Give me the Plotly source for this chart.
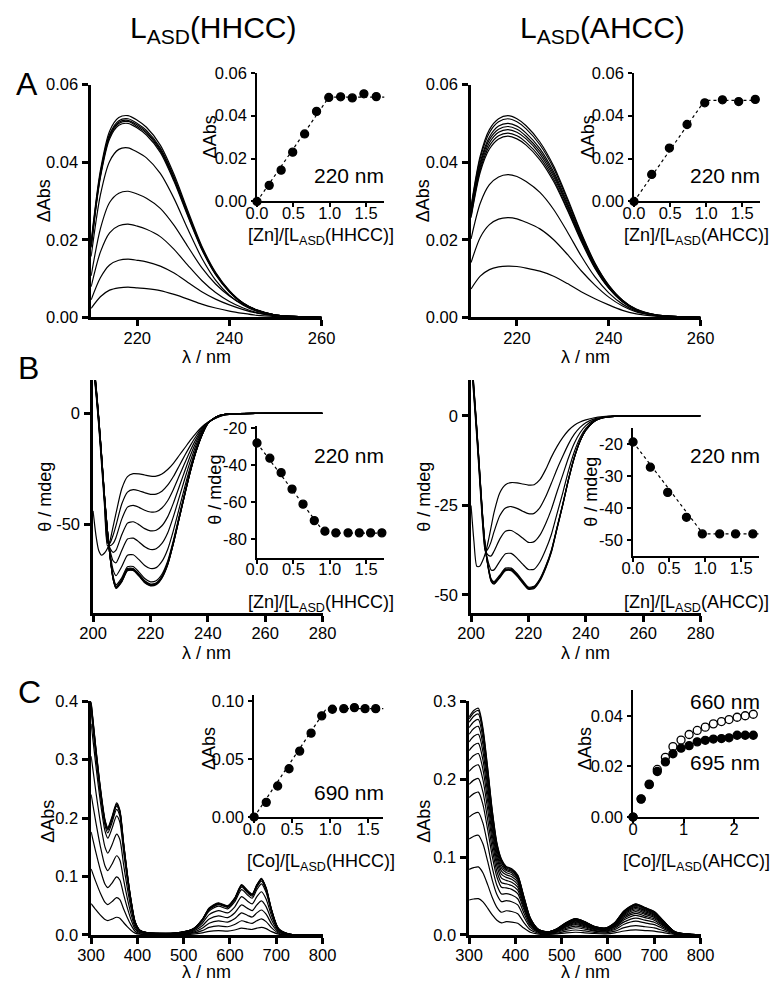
import plotly.graph_objects as go

W, H = 783, 993
FONT = "Liberation Sans, Arial, sans-serif"

# ---------------- DATA ----------------
# Panel A, L_ASD(HHCC): Zn titration UV difference spectra
A_HHCC_WL = [210, 212, 214, 216, 218, 220, 222, 225, 228, 231, 234, 237, 240, 243, 246, 250, 255, 260]
A_HHCC_SPECTRA = [
    [0.0023, 0.0053, 0.0070, 0.0076, 0.0078, 0.0076, 0.0074, 0.0069, 0.0059, 0.0047, 0.0034, 0.0024, 0.0016, 0.0010, 0.0005, 0.0002, 0.0000, 0],
    [0.0045, 0.0102, 0.0135, 0.0147, 0.0150, 0.0147, 0.0143, 0.0132, 0.0114, 0.0090, 0.0066, 0.0047, 0.0032, 0.0020, 0.0011, 0.0004, 0.0001, 0],
    [0.0079, 0.0168, 0.0218, 0.0236, 0.0240, 0.0235, 0.0227, 0.0208, 0.0175, 0.0134, 0.0095, 0.0064, 0.0041, 0.0024, 0.0012, 0.0004, 0.0001, 0],
    [0.0107, 0.0228, 0.0296, 0.0320, 0.0325, 0.0318, 0.0307, 0.0281, 0.0237, 0.0182, 0.0128, 0.0086, 0.0055, 0.0033, 0.0017, 0.0006, 0.0001, 0],
    [0.0157, 0.0315, 0.0402, 0.0433, 0.0437, 0.0426, 0.0411, 0.0371, 0.0306, 0.0227, 0.0153, 0.0096, 0.0057, 0.0031, 0.0015, 0.0005, 0.0001, 0],
    [0.0180, 0.0360, 0.0460, 0.0495, 0.0500, 0.0488, 0.0470, 0.0425, 0.0350, 0.0260, 0.0175, 0.0110, 0.0065, 0.0035, 0.0018, 0.0006, 0.0002, 0],
    [0.0182, 0.0364, 0.0465, 0.0500, 0.0505, 0.0492, 0.0475, 0.0429, 0.0354, 0.0263, 0.0177, 0.0111, 0.0066, 0.0035, 0.0018, 0.0006, 0.0002, 0],
    [0.0185, 0.0368, 0.0468, 0.0503, 0.0508, 0.0496, 0.0478, 0.0433, 0.0358, 0.0266, 0.0179, 0.0113, 0.0067, 0.0036, 0.0018, 0.0006, 0.0002, 0],
    [0.0190, 0.0372, 0.0472, 0.0507, 0.0512, 0.0500, 0.0482, 0.0437, 0.0362, 0.0269, 0.0181, 0.0114, 0.0068, 0.0036, 0.0018, 0.0006, 0.0002, 0],
    [0.0195, 0.0378, 0.0480, 0.0515, 0.0520, 0.0508, 0.0490, 0.0444, 0.0368, 0.0274, 0.0184, 0.0116, 0.0069, 0.0037, 0.0019, 0.0006, 0.0002, 0],
]
A_HHCC_RATIO = [0, 0.168, 0.332, 0.491, 0.655, 0.819, 0.987, 1.15, 1.31, 1.47, 1.64]
A_HHCC_DABS = [0.0, 0.0075, 0.0146, 0.0230, 0.0315, 0.0420, 0.0485, 0.0488, 0.0483, 0.0502, 0.0489]
A_HHCC_FIT_X = [0, 0.99, 1.78]
A_HHCC_FIT_Y = [0, 0.0487, 0.0487]

# Panel A, L_ASD(AHCC)
A_AHCC_WL = [210, 212, 214, 216, 218, 220, 222, 225, 228, 231, 234, 237, 240, 243, 246, 250, 255, 260]
A_AHCC_SPECTRA = [
    [0.0073, 0.0106, 0.0123, 0.0130, 0.0132, 0.0131, 0.0127, 0.0119, 0.0106, 0.0087, 0.0066, 0.0048, 0.0032, 0.0018, 0.0009, 0.0003, 0.0001, 0],
    [0.0141, 0.0206, 0.0239, 0.0253, 0.0257, 0.0254, 0.0245, 0.0228, 0.0200, 0.0162, 0.0120, 0.0083, 0.0052, 0.0029, 0.0014, 0.0005, 0.0001, 0],
    [0.0202, 0.0294, 0.0342, 0.0362, 0.0368, 0.0363, 0.0350, 0.0322, 0.0278, 0.0220, 0.0158, 0.0104, 0.0063, 0.0034, 0.0016, 0.0005, 0.0001, 0],
    [0.0257, 0.0374, 0.0434, 0.0460, 0.0467, 0.0460, 0.0444, 0.0406, 0.0350, 0.0276, 0.0196, 0.0126, 0.0075, 0.0040, 0.0019, 0.0006, 0.0001, 0],
    [0.0261, 0.0380, 0.0442, 0.0468, 0.0475, 0.0468, 0.0451, 0.0413, 0.0356, 0.0280, 0.0200, 0.0128, 0.0076, 0.0040, 0.0019, 0.0006, 0.0001, 0],
    [0.0266, 0.0387, 0.0450, 0.0477, 0.0484, 0.0477, 0.0460, 0.0421, 0.0363, 0.0286, 0.0203, 0.0131, 0.0077, 0.0041, 0.0019, 0.0006, 0.0001, 0],
    [0.0271, 0.0394, 0.0458, 0.0485, 0.0492, 0.0485, 0.0467, 0.0428, 0.0369, 0.0290, 0.0207, 0.0133, 0.0079, 0.0042, 0.0020, 0.0006, 0.0001, 0],
    [0.0275, 0.0400, 0.0465, 0.0493, 0.0500, 0.0493, 0.0475, 0.0435, 0.0375, 0.0295, 0.0210, 0.0135, 0.0080, 0.0043, 0.0020, 0.0007, 0.0002, 0],
    [0.0282, 0.0410, 0.0476, 0.0504, 0.0512, 0.0504, 0.0486, 0.0445, 0.0384, 0.0302, 0.0215, 0.0138, 0.0082, 0.0044, 0.0020, 0.0007, 0.0002, 0],
    [0.0286, 0.0416, 0.0484, 0.0512, 0.0520, 0.0512, 0.0494, 0.0452, 0.0390, 0.0307, 0.0218, 0.0140, 0.0083, 0.0044, 0.0021, 0.0007, 0.0002, 0],
]
A_AHCC_RATIO = [0, 0.245, 0.49, 0.735, 0.98, 1.225, 1.45, 1.68]
A_AHCC_DABS = [0.0, 0.0126, 0.0249, 0.0359, 0.0460, 0.0474, 0.0466, 0.0476]
A_AHCC_FIT_X = [0, 0.98, 1.78]
A_AHCC_FIT_Y = [0, 0.0471, 0.0471]

# Panel B, CD spectra (mdeg)
B_WL = [200, 201, 202, 203, 204, 205, 206, 207, 208, 210, 212, 214, 216, 218, 220, 222, 224, 226, 228, 230, 232, 234, 236, 238, 240, 243, 246, 250, 260, 280]
B_HHCC_SPECTRA = [
    [-44, -55, -62, -64, -63, -61, -57, -51, -45, -34, -28.5, -27.2, -27.3, -27.8, -28.3, -28.3, -27.3, -25.3, -22.5, -19, -15.5, -12, -8.8, -6, -4, -2, -0.7, -0.2, 0, 0],
    [22, 9, -6, -24, -42, -59.7, -58.3, -54.9, -50.5, -40.9, -35.5, -34.4, -34.9, -35.8, -36.5, -36.4, -35.1, -32.4, -28.5, -23.7, -18.9, -14.3, -10.1, -6.6, -4.1, -1.9, -0.65, -0.2, 0, 0],
    [23, 10, -5, -22, -40, -58.3, -59.7, -58.7, -56, -47.7, -42.3, -41.5, -42.4, -43.7, -44.5, -44.4, -42.7, -39.4, -34.3, -28.3, -22.3, -16.5, -11.4, -7.2, -4.2, -1.8, -0.6, -0.2, 0, 0],
    [23.5, 10.5, -4.5, -21.5, -39.5, -56.9, -61.1, -62.7, -61.7, -54.8, -49.5, -48.9, -50.2, -52, -53, -52.7, -50.7, -46.7, -40.5, -33.2, -25.9, -18.8, -12.7, -7.8, -4.3, -1.75, -0.55, -0.15, 0, 0],
    [24, 11, -4, -21, -39, -55.6, -62.4, -66.6, -67.4, -61.9, -56.7, -56.3, -58, -60.2, -61.4, -61.1, -58.7, -54, -46.6, -38, -29.4, -21.2, -14, -8.4, -4.3, -1.7, -0.5, -0.15, 0, 0],
    [24.5, 11.5, -3.5, -20.5, -38.5, -54.2, -63.8, -70.7, -73.2, -69.1, -64, -63.8, -66, -68.6, -70, -69.6, -66.8, -61.4, -52.9, -43, -33, -23.6, -15.4, -9, -4.4, -1.6, -0.45, -0.1, 0, 0],
    [25, 12, -3, -20, -38, -53.2, -64.8, -73.5, -77.3, -74.2, -69.2, -69.1, -71.6, -74.5, -76, -75.5, -72.6, -66.7, -57.3, -46.4, -35.6, -25.2, -16.3, -9.4, -4.5, -1.5, -0.4, -0.1, 0, 0],
    [25, 12, -3, -20, -38, -53, -65, -74, -78, -75, -70, -70, -72.5, -75.5, -77, -76.5, -73.5, -67.5, -58, -47, -36, -25.5, -16.5, -9.5, -4.5, -1.5, -0.4, -0.1, 0, 0],
    [25.5, 12.3, -2.8, -19.8, -37.8, -53, -65.2, -74.3, -78.3, -75.3, -70.3, -70.3, -72.8, -75.8, -77.2, -76.7, -73.7, -67.8, -58.3, -47.2, -36.2, -25.6, -16.6, -9.6, -4.5, -1.5, -0.4, -0.1, 0, 0],
    [26, 12.6, -2.6, -19.6, -37.6, -52.9, -65.4, -74.6, -78.6, -75.6, -70.6, -70.5, -73, -76, -77.4, -76.9, -73.9, -68, -58.5, -47.4, -36.3, -25.7, -16.7, -9.6, -4.5, -1.5, -0.4, -0.1, 0, 0],
    [26.5, 12.9, -2.4, -19.4, -37.4, -52.8, -65.5, -74.8, -78.8, -75.8, -70.8, -70.7, -73.2, -76.2, -77.6, -77.1, -74.1, -68.2, -58.6, -47.5, -36.4, -25.8, -16.8, -9.7, -4.6, -1.5, -0.4, -0.1, 0, 0],
    [27, 13.2, -2.2, -19.2, -37.2, -52.7, -65.6, -75, -79, -76, -71, -70.9, -73.4, -76.4, -77.8, -77.3, -74.3, -68.4, -58.8, -47.6, -36.5, -25.9, -16.9, -9.7, -4.6, -1.5, -0.4, -0.1, 0, 0],
]
B_HHCC_RATIO = [0, 0.177, 0.332, 0.482, 0.633, 0.788, 0.934, 1.084, 1.252, 1.407, 1.562, 1.717]
B_HHCC_THETA = [-28.0, -36.2, -44.0, -52.9, -61.0, -69.9, -75.6, -76.5, -76.5, -76.5, -76.5, -76.5]
B_HHCC_FIT_X = [0, 0.93, 1.78]
B_HHCC_FIT_Y = [-28.0, -76.6, -76.6]

B_AHCC_SPECTRA = [
    [-25, -35, -42, -42, -40.5, -38.3, -35, -31, -27, -21.5, -19.2, -18.6, -18.7, -19, -19.3, -19.2, -17.8, -15, -11.5, -8.5, -6, -4, -2.6, -1.7, -1.1, -0.5, -0.2, 0, 0, 0],
    [16, 5, -6, -18, -30, -37.9, -37, -35.1, -32.4, -27.9, -25.7, -25.3, -25.8, -26.6, -27.3, -27.2, -25.6, -22.6, -18.8, -14.8, -11.2, -7.8, -5.1, -3.2, -1.9, -0.8, -0.3, 0, 0, 0],
    [17, 6, -5, -17, -29, -37.6, -38.9, -39.1, -37.8, -34.4, -32.2, -32, -32.9, -34.1, -35.3, -35.1, -33.3, -30.1, -26.1, -21.1, -16.4, -11.6, -7.6, -4.7, -2.7, -1.1, -0.4, -0.1, 0, 0],
    [17.5, 6.5, -4.5, -16.5, -28.5, -37.2, -40.8, -43, -43, -40.6, -38.5, -38.4, -39.7, -41.4, -42.9, -42.8, -40.8, -37.4, -33.1, -27.2, -21.4, -15.2, -10, -6.1, -3.5, -1.3, -0.45, -0.1, 0, 0],
    [18, 7, -4, -16, -28, -37, -42, -45.5, -46.3, -44.5, -42.5, -42.5, -44, -46, -47.8, -47.6, -45.5, -42, -37.5, -31, -24.5, -17.5, -11.5, -7, -4, -1.5, -0.5, -0.1, 0, 0],
    [18.5, 7.3, -3.8, -15.8, -27.8, -37, -42.2, -45.8, -46.6, -44.8, -42.8, -42.8, -44.3, -46.3, -48, -47.8, -45.7, -42.2, -37.7, -31.2, -24.6, -17.6, -11.6, -7, -4, -1.5, -0.5, -0.1, 0, 0],
    [19, 7.6, -3.6, -15.6, -27.6, -36.9, -42.4, -46, -46.8, -45, -43, -43, -44.5, -46.5, -48.2, -48, -45.9, -42.4, -37.9, -31.3, -24.7, -17.7, -11.6, -7.1, -4, -1.5, -0.5, -0.1, 0, 0],
    [19.5, 7.9, -3.4, -15.4, -27.4, -36.8, -42.6, -46.2, -47, -45.2, -43.2, -43.2, -44.7, -46.7, -48.4, -48.2, -46.1, -42.6, -38.1, -31.4, -24.8, -17.8, -11.7, -7.1, -4, -1.5, -0.5, -0.1, 0, 0],
]
B_AHCC_RATIO = [0, 0.24, 0.48, 0.74, 0.96, 1.2, 1.42, 1.66]
B_AHCC_THETA = [-19.3, -27.2, -35.1, -42.9, -48.1, -48.1, -48.1, -48.1]
B_AHCC_FIT_X = [0, 0.97, 1.78]
B_AHCC_FIT_Y = [-19.3, -48.1, -48.1]

# Panel C, Co titration UV-vis spectra
C_HHCC_WL = [300, 310, 320, 330, 336, 345, 355, 362, 370, 378, 386, 395, 405, 420, 480, 520, 540, 555, 575, 595, 610, 625, 638, 648, 658, 668, 678, 690, 705, 730, 800]
C_HHCC_SPECTRA = [
    [0.0536, 0.0432, 0.0338, 0.0263, 0.0246, 0.0270, 0.0302, 0.0286, 0.0212, 0.0142, 0.0081, 0.0030, 0.0011, 0.0005, 0.0004, 0.0014, 0.0035, 0.0061, 0.0073, 0.0066, 0.0084, 0.0115, 0.0101, 0.0093, 0.0115, 0.0130, 0.0108, 0.0057, 0.0014, 0.0001, 0],
    [0.1131, 0.0912, 0.0713, 0.0556, 0.0519, 0.0570, 0.0638, 0.0604, 0.0447, 0.0299, 0.0171, 0.0063, 0.0023, 0.0011, 0.0009, 0.0029, 0.0074, 0.0128, 0.0154, 0.0140, 0.0177, 0.0242, 0.0214, 0.0197, 0.0242, 0.0274, 0.0228, 0.0120, 0.0029, 0.0003, 0],
    [0.1763, 0.1421, 0.1110, 0.0866, 0.0808, 0.0888, 0.0995, 0.0941, 0.0697, 0.0466, 0.0266, 0.0098, 0.0036, 0.0018, 0.0013, 0.0044, 0.0115, 0.0200, 0.0240, 0.0218, 0.0275, 0.0377, 0.0333, 0.0306, 0.0377, 0.0426, 0.0355, 0.0186, 0.0044, 0.0004, 0],
    [0.2402, 0.1936, 0.1513, 0.1180, 0.1101, 0.1210, 0.1355, 0.1283, 0.0950, 0.0635, 0.0363, 0.0133, 0.0048, 0.0024, 0.0018, 0.0061, 0.0157, 0.0272, 0.0327, 0.0296, 0.0375, 0.0514, 0.0454, 0.0417, 0.0514, 0.0581, 0.0484, 0.0254, 0.0061, 0.0006, 0],
    [0.3057, 0.2464, 0.1925, 0.1502, 0.1401, 0.1540, 0.1725, 0.1632, 0.1209, 0.0809, 0.0462, 0.0169, 0.0062, 0.0031, 0.0023, 0.0077, 0.0200, 0.0347, 0.0416, 0.0377, 0.0477, 0.0655, 0.0578, 0.0531, 0.0655, 0.0739, 0.0616, 0.0323, 0.0077, 0.0008, 0],
    [0.3613, 0.2912, 0.2275, 0.1775, 0.1656, 0.1820, 0.2038, 0.1929, 0.1429, 0.0956, 0.0546, 0.0200, 0.0073, 0.0036, 0.0027, 0.0091, 0.0237, 0.0410, 0.0491, 0.0446, 0.0564, 0.0774, 0.0683, 0.0628, 0.0774, 0.0874, 0.0728, 0.0382, 0.0091, 0.0009, 0],
    [0.3811, 0.3072, 0.2400, 0.1872, 0.1747, 0.1920, 0.2150, 0.2035, 0.1507, 0.1008, 0.0576, 0.0211, 0.0077, 0.0038, 0.0029, 0.0096, 0.0250, 0.0432, 0.0518, 0.0470, 0.0595, 0.0816, 0.0720, 0.0662, 0.0816, 0.0922, 0.0768, 0.0403, 0.0096, 0.0010, 0],
    [0.3910, 0.3152, 0.2463, 0.1921, 0.1793, 0.1970, 0.2206, 0.2088, 0.1546, 0.1034, 0.0591, 0.0217, 0.0079, 0.0039, 0.0030, 0.0099, 0.0256, 0.0443, 0.0532, 0.0483, 0.0611, 0.0837, 0.0739, 0.0680, 0.0837, 0.0946, 0.0788, 0.0414, 0.0099, 0.0010, 0],
    [0.3950, 0.3184, 0.2488, 0.1940, 0.1811, 0.1990, 0.2229, 0.2109, 0.1562, 0.1045, 0.0597, 0.0219, 0.0080, 0.0040, 0.0030, 0.0100, 0.0259, 0.0448, 0.0537, 0.0488, 0.0617, 0.0846, 0.0746, 0.0687, 0.0846, 0.0955, 0.0796, 0.0418, 0.0100, 0.0010, 0],
    [0.3970, 0.3200, 0.2500, 0.1950, 0.1820, 0.2000, 0.2240, 0.2120, 0.1570, 0.1050, 0.0600, 0.0220, 0.0080, 0.0040, 0.0030, 0.0100, 0.0260, 0.0450, 0.0540, 0.0490, 0.0620, 0.0850, 0.0750, 0.0690, 0.0850, 0.0960, 0.0800, 0.0420, 0.0100, 0.0010, 0],
    [0.3990, 0.3220, 0.2520, 0.1970, 0.1840, 0.2020, 0.2260, 0.2140, 0.1590, 0.1060, 0.0610, 0.0230, 0.0080, 0.0040, 0.0030, 0.0100, 0.0260, 0.0460, 0.0550, 0.0500, 0.0630, 0.0860, 0.0760, 0.0700, 0.0860, 0.0970, 0.0810, 0.0430, 0.0110, 0.0010, 0],
]
C_HHCC_RATIO = [0, 0.16, 0.31, 0.46, 0.60, 0.75, 0.89, 1.03, 1.18, 1.32, 1.46, 1.60]
C_HHCC_DABS = [0.0, 0.0127, 0.0268, 0.0417, 0.0569, 0.0724, 0.0873, 0.0930, 0.0935, 0.0944, 0.0935, 0.0935]
C_HHCC_FIT_X = [0, 0.95, 1.72]
C_HHCC_FIT_Y = [0, 0.0935, 0.0935]

C_AHCC_WL = [300, 310, 320, 330, 340, 350, 360, 370, 380, 392, 405, 418, 432, 450, 470, 490, 510, 530, 550, 570, 595, 615, 635, 660, 680, 700, 720, 745, 800]
C_AHCC_SPECTRA = [
    [0.0448, 0.0461, 0.0466, 0.0424, 0.0344, 0.0256, 0.0189, 0.0155, 0.0170, 0.0165, 0.0149, 0.0088, 0.0035, 0.0011, 0.0006, 0.0013, 0.0026, 0.0034, 0.0027, 0.0018, 0.0014, 0.0026, 0.0050, 0.0064, 0.0056, 0.0048, 0.0029, 0.0006, 0],
    [0.0840, 0.0864, 0.0873, 0.0795, 0.0645, 0.0480, 0.0354, 0.0291, 0.0310, 0.0300, 0.0271, 0.0162, 0.0066, 0.0021, 0.0012, 0.0024, 0.0048, 0.0063, 0.0051, 0.0033, 0.0027, 0.0048, 0.0093, 0.0120, 0.0105, 0.0090, 0.0054, 0.0012, 0],
    [0.1232, 0.1267, 0.1280, 0.1166, 0.0946, 0.0704, 0.0519, 0.0427, 0.0441, 0.0426, 0.0386, 0.0235, 0.0097, 0.0031, 0.0018, 0.0035, 0.0070, 0.0092, 0.0075, 0.0048, 0.0040, 0.0070, 0.0136, 0.0176, 0.0154, 0.0132, 0.0079, 0.0018, 0],
    [0.1512, 0.1555, 0.1571, 0.1431, 0.1161, 0.0864, 0.0637, 0.0524, 0.0530, 0.0512, 0.0464, 0.0286, 0.0119, 0.0038, 0.0022, 0.0043, 0.0086, 0.0113, 0.0092, 0.0059, 0.0049, 0.0086, 0.0167, 0.0216, 0.0189, 0.0162, 0.0097, 0.0022, 0],
    [0.1764, 0.1814, 0.1833, 0.1670, 0.1355, 0.1008, 0.0743, 0.0611, 0.0604, 0.0584, 0.0529, 0.0331, 0.0139, 0.0044, 0.0025, 0.0050, 0.0101, 0.0132, 0.0107, 0.0069, 0.0057, 0.0101, 0.0195, 0.0252, 0.0221, 0.0189, 0.0113, 0.0025, 0],
    [0.1932, 0.1987, 0.2008, 0.1829, 0.1484, 0.1104, 0.0814, 0.0669, 0.0656, 0.0634, 0.0574, 0.0359, 0.0152, 0.0048, 0.0028, 0.0055, 0.0110, 0.0145, 0.0117, 0.0076, 0.0062, 0.0110, 0.0214, 0.0276, 0.0242, 0.0207, 0.0124, 0.0028, 0],
    [0.2100, 0.2160, 0.2183, 0.1988, 0.1613, 0.1200, 0.0885, 0.0728, 0.0700, 0.0676, 0.0613, 0.0386, 0.0165, 0.0053, 0.0030, 0.0060, 0.0120, 0.0158, 0.0128, 0.0083, 0.0068, 0.0120, 0.0233, 0.0300, 0.0263, 0.0225, 0.0135, 0.0030, 0],
    [0.2240, 0.2304, 0.2328, 0.2120, 0.1720, 0.1280, 0.0944, 0.0776, 0.0739, 0.0714, 0.0647, 0.0408, 0.0176, 0.0056, 0.0032, 0.0064, 0.0128, 0.0168, 0.0136, 0.0088, 0.0072, 0.0128, 0.0248, 0.0320, 0.0280, 0.0240, 0.0144, 0.0032, 0],
    [0.2366, 0.2434, 0.2459, 0.2239, 0.1817, 0.1352, 0.0997, 0.0820, 0.0773, 0.0747, 0.0677, 0.0431, 0.0186, 0.0059, 0.0034, 0.0068, 0.0135, 0.0177, 0.0144, 0.0093, 0.0076, 0.0135, 0.0262, 0.0338, 0.0296, 0.0254, 0.0152, 0.0034, 0],
    [0.2478, 0.2549, 0.2575, 0.2345, 0.1903, 0.1416, 0.1044, 0.0858, 0.0802, 0.0775, 0.0702, 0.0447, 0.0195, 0.0062, 0.0035, 0.0071, 0.0142, 0.0186, 0.0150, 0.0097, 0.0080, 0.0142, 0.0274, 0.0354, 0.0310, 0.0266, 0.0159, 0.0035, 0],
    [0.2576, 0.2650, 0.2677, 0.2438, 0.1978, 0.1472, 0.1086, 0.0892, 0.0826, 0.0798, 0.0722, 0.0460, 0.0202, 0.0064, 0.0037, 0.0074, 0.0147, 0.0193, 0.0156, 0.0101, 0.0083, 0.0147, 0.0285, 0.0368, 0.0322, 0.0276, 0.0166, 0.0037, 0],
    [0.2660, 0.2736, 0.2765, 0.2518, 0.2043, 0.1520, 0.1121, 0.0922, 0.0844, 0.0816, 0.0739, 0.0475, 0.0209, 0.0067, 0.0038, 0.0076, 0.0152, 0.0200, 0.0162, 0.0105, 0.0086, 0.0152, 0.0295, 0.0380, 0.0333, 0.0285, 0.0171, 0.0038, 0],
    [0.2730, 0.2808, 0.2837, 0.2584, 0.2096, 0.1560, 0.1151, 0.0946, 0.0858, 0.0829, 0.0751, 0.0488, 0.0215, 0.0068, 0.0039, 0.0078, 0.0156, 0.0205, 0.0166, 0.0107, 0.0088, 0.0156, 0.0302, 0.0390, 0.0341, 0.0293, 0.0176, 0.0039, 0],
    [0.2772, 0.2851, 0.2881, 0.2624, 0.2129, 0.1584, 0.1168, 0.0960, 0.0871, 0.0842, 0.0762, 0.0495, 0.0218, 0.0069, 0.0040, 0.0079, 0.0158, 0.0208, 0.0168, 0.0109, 0.0089, 0.0158, 0.0307, 0.0396, 0.0347, 0.0297, 0.0178, 0.0040, 0],
    [0.2800, 0.2880, 0.2910, 0.2650, 0.2150, 0.1600, 0.1180, 0.0970, 0.0880, 0.0850, 0.0770, 0.0500, 0.0220, 0.0070, 0.0040, 0.0080, 0.0160, 0.0210, 0.0170, 0.0110, 0.0090, 0.0160, 0.0310, 0.0400, 0.0350, 0.0300, 0.0180, 0.0040, 0],
]
C_AHCC_RATIO = [0, 0.16, 0.32, 0.48, 0.64, 0.79, 0.95, 1.11, 1.27, 1.43, 1.59, 1.75, 1.90, 2.06, 2.22, 2.38]
C_AHCC_DABS_695 = [0.0, 0.0071, 0.0128, 0.0180, 0.0218, 0.0250, 0.0272, 0.0282, 0.0297, 0.0303, 0.0308, 0.0310, 0.0313, 0.0323, 0.0323, 0.0323]
C_AHCC_DABS_660 = [0.0, 0.0072, 0.0130, 0.0188, 0.0236, 0.0278, 0.0304, 0.0326, 0.0342, 0.0355, 0.0368, 0.0377, 0.0385, 0.0394, 0.0400, 0.0406]

# ---------------- FIGURE ----------------
fig = go.Figure()


def px_x(x):
    return x / W


def px_y(y):
    return 1 - y / H


def add_axes(n, xdom, ydom, xr, yr, xtv, xtt, ytv, ytt, lw, tl, fs, xstand=0):
    xs = "xaxis" if n == 1 else f"xaxis{n}"
    ys = "yaxis" if n == 1 else f"yaxis{n}"
    xa = "x" if n == 1 else f"x{n}"
    ya = "y" if n == 1 else f"y{n}"
    common = dict(showline=True, linewidth=lw, linecolor="black", ticks="outside",
                  ticklen=tl, tickwidth=lw, tickcolor="black", showgrid=False,
                  zeroline=False, fixedrange=True,
                  tickfont=dict(family=FONT, size=fs, color="black"))
    fig.update_layout(**{
        xs: dict(domain=[px_x(xdom[0]), px_x(xdom[1])], range=xr, anchor=ya,
                 tickvals=xtv, ticktext=xtt, ticklabelstandoff=xstand, **common),
        ys: dict(domain=[px_y(ydom[1]), px_y(ydom[0])], range=yr, anchor=xa,
                 tickvals=ytv, ticktext=ytt, ticklabelstandoff=1, **common),
    })
    return xa, ya


def add_spectra(wl, curves, xa, ya, smoothing=0.8):
    for c in curves:
        fig.add_trace(go.Scatter(x=wl, y=c, mode="lines",
                                 line=dict(color="black", width=1.2, shape="spline", smoothing=smoothing),
                                 xaxis=xa, yaxis=ya, showlegend=False, hoverinfo="skip"))


def add_inset(xr, yv, fx, fy, xa, ya, symbol="circle"):
    if fx is not None:
        fig.add_trace(go.Scatter(x=fx, y=fy, mode="lines",
                                 line=dict(color="black", width=1.2, dash="dot"),
                                 xaxis=xa, yaxis=ya, showlegend=False, hoverinfo="skip", cliponaxis=False))
    fig.add_trace(go.Scatter(x=xr, y=yv, mode="markers",
                             marker=dict(symbol=symbol, size=8, color="black", line=dict(width=1.3, color="black")),
                             xaxis=xa, yaxis=ya, showlegend=False, hoverinfo="skip", cliponaxis=False))


MAIN_LW, MAIN_TL, FS = 2.5, 6, 16.5
IN_LW, IN_TL = 1.6, 4
MS, IS = -2, -8   # x tick-label standoff for main panels and insets

# Panel A
xa, ya = add_axes(1, (80, 319), (77, 314), [210, 260], [0, 0.06],
                  [220, 240, 260], ["220", "240", "260"],
                  [0, 0.02, 0.04, 0.06], ["0.00", "0.02", "0.04", "0.06"], MAIN_LW, MAIN_TL, FS, xstand=MS)
add_spectra(A_HHCC_WL, A_HHCC_SPECTRA, xa, ya)
xa, ya = add_axes(2, (474, 712), (77, 314), [210, 260], [0, 0.06],
                  [220, 240, 260], ["220", "240", "260"],
                  [0, 0.02, 0.04, 0.06], ["0.00", "0.02", "0.04", "0.06"], MAIN_LW, MAIN_TL, FS, xstand=MS)
add_spectra(A_AHCC_WL, A_AHCC_SPECTRA, xa, ya)
xa, ya = add_axes(3, (252, 384), (65, 196), [0, 1.75], [0, 0.06],
                  [0, 0.5, 1.0, 1.5], ["0.0", "0.5", "1.0", "1.5"],
                  [0, 0.02, 0.04, 0.06], ["0.00", "0.02", "0.04", "0.06"], IN_LW, IN_TL, FS, xstand=IS)
add_inset(A_HHCC_RATIO, A_HHCC_DABS, A_HHCC_FIT_X, A_HHCC_FIT_Y, xa, ya)
xa, ya = add_axes(4, (643, 774), (65, 196), [0, 1.75], [0, 0.06],
                  [0, 0.5, 1.0, 1.5], ["0.0", "0.5", "1.0", "1.5"],
                  [0, 0.02, 0.04, 0.06], ["0.00", "0.02", "0.04", "0.06"], IN_LW, IN_TL, FS, xstand=IS)
add_inset(A_AHCC_RATIO, A_AHCC_DABS, A_AHCC_FIT_X, A_AHCC_FIT_Y, xa, ya)

# Panel B
xa, ya = add_axes(5, (82, 320), (378, 615), [200, 280], [-90, 15],
                  [200, 220, 240, 260, 280], ["200", "220", "240", "260", "280"],
                  [0, -50], ["0", "-50"], MAIN_LW, MAIN_TL, FS, xstand=MS)
add_spectra(B_WL, B_HHCC_SPECTRA, xa, ya, smoothing=0.6)
xa, ya = add_axes(6, (474, 712), (378, 615), [200, 280], [-55, 10],
                  [200, 220, 240, 260, 280], ["200", "220", "240", "260", "280"],
                  [0, -25, -50], ["0", "-25", "-50"], MAIN_LW, MAIN_TL, FS, xstand=MS)
add_spectra(B_WL, B_AHCC_SPECTRA, xa, ya, smoothing=0.6)
xa, ya = add_axes(7, (252, 384), (425, 559), [0, 1.75], [-90, -19],
                  [0, 0.5, 1.0, 1.5], ["0.0", "0.5", "1.0", "1.5"],
                  [-20, -40, -60, -80], ["-20", "-40", "-60", "-80"], IN_LW, IN_TL, FS, xstand=IS)
add_inset(B_HHCC_RATIO, B_HHCC_THETA, B_HHCC_FIT_X, B_HHCC_FIT_Y, xa, ya)
xa, ya = add_axes(8, (642, 773), (427, 557), [0, 1.75], [-55, -15],
                  [0, 0.5, 1.0, 1.5], ["0.0", "0.5", "1.0", "1.5"],
                  [-20, -30, -40, -50], ["-20", "-30", "-40", "-50"], IN_LW, IN_TL, FS, xstand=IS)
add_inset(B_AHCC_RATIO, B_AHCC_THETA, B_AHCC_FIT_X, B_AHCC_FIT_Y, xa, ya)

# Panel C
xa, ya = add_axes(9, (80, 320), (705, 943), [300, 800], [0, 0.4],
                  [300, 400, 500, 600, 700, 800], ["300", "400", "500", "600", "700", "800"],
                  [0, 0.1, 0.2, 0.3, 0.4], ["0.0", "0.1", "0.2", "0.3", "0.4"], MAIN_LW, MAIN_TL, FS, xstand=MS)
add_spectra(C_HHCC_WL, C_HHCC_SPECTRA, xa, ya, smoothing=0.7)
xa, ya = add_axes(10, (472, 712), (705, 943), [300, 800], [0, 0.3],
                  [300, 400, 500, 600, 700, 800], ["300", "400", "500", "600", "700", "800"],
                  [0, 0.1, 0.2, 0.3], ["0.0", "0.1", "0.2", "0.3"], MAIN_LW, MAIN_TL, FS, xstand=MS)
add_spectra(C_AHCC_WL, C_AHCC_SPECTRA, xa, ya, smoothing=0.7)
xa, ya = add_axes(11, (249, 383), (699, 823), [0, 1.7], [0, 0.105],
                  [0, 0.5, 1.0, 1.5], ["0.0", "0.5", "1.0", "1.5"],
                  [0, 0.05, 0.10], ["0.00", "0.05", "0.10"], IN_LW, IN_TL, FS, xstand=IS)
add_inset(C_HHCC_RATIO, C_HHCC_DABS, C_HHCC_FIT_X, C_HHCC_FIT_Y, xa, ya)
xa, ya = add_axes(12, (642, 773), (694, 823), [0, 2.5], [0, 0.05],
                  [0, 1, 2], ["0", "1", "2"],
                  [0, 0.02, 0.04], ["0.00", "0.02", "0.04"], IN_LW, IN_TL, FS, xstand=IS)
add_inset(C_AHCC_RATIO, C_AHCC_DABS_660, None, None, xa, ya, symbol="circle-open")
add_inset(C_AHCC_RATIO, C_AHCC_DABS_695, None, None, xa, ya, symbol="circle")

# ---------------- TEXT ----------------
ann = []


def txt(x, y, s, size, angle=0, xanchor="center", yanchor="middle"):
    ann.append(dict(x=px_x(x), y=px_y(y), xref="paper", yref="paper", text=s, showarrow=False,
                    textangle=angle, xanchor=xanchor, yanchor=yanchor,
                    font=dict(family=FONT, size=size, color="black")))


TS = 18
# column titles
txt(207, 21, "L<sub>ASD</sub>(HHCC)", 30)
txt(610, 21, "L<sub>ASD</sub>(AHCC)", 30)
# panel letters
txt(13, 76, "A", 32)
txt(15, 366, "B", 32)
txt(16, 696, "C", 32)
# main axis titles
txt(32, 195, "ΔAbs", TS, angle=-90)
txt(425, 195, "ΔAbs", TS, angle=-90)
txt(200, 354, "λ / nm", TS)
txt(593, 354, "λ / nm", TS)
txt(32, 497, "θ / mdeg", TS, angle=-90)
txt(425, 497, "θ / mdeg", TS, angle=-90)
txt(200, 656, "λ / nm", TS)
txt(593, 656, "λ / nm", TS)
txt(35, 827, "ΔAbs", TS, angle=-90)
txt(425, 827, "ΔAbs", TS, angle=-90)
txt(200, 981, "λ / nm", TS)
txt(593, 981, "λ / nm", TS)
# inset axis titles
txt(203, 130, "ΔAbs", TS, angle=-90)
txt(595, 130, "ΔAbs", TS, angle=-90)
txt(318, 232, "[Zn]/[L<sub>ASD</sub>(HHCC)]", TS)
txt(708, 232, "[Zn]/[L<sub>ASD</sub>(AHCC)]", TS)
txt(209, 490, "θ / mdeg", TS, angle=-90)
txt(598, 492, "θ / mdeg", TS, angle=-90)
txt(318, 605, "[Zn]/[L<sub>ASD</sub>(HHCC)]", TS)
txt(708, 605, "[Zn]/[L<sub>ASD</sub>(AHCC)]", TS)
txt(203, 753, "ΔAbs", TS, angle=-90)
txt(593, 753, "ΔAbs", TS, angle=-90)
txt(318, 869, "[Co]/[L<sub>ASD</sub>(HHCC)]", TS)
txt(708, 869, "[Co]/[L<sub>ASD</sub>(AHCC)]", TS)
# wavelength labels in insets
LS = 21
txt(386, 170, "220 nm", LS, xanchor="right")
txt(776, 170, "220 nm", LS, xanchor="right")
txt(386, 455, "220 nm", LS, xanchor="right")
txt(776, 455, "220 nm", LS, xanchor="right")
txt(386, 798, "690 nm", LS, xanchor="right")
txt(776, 705, "660 nm", LS, xanchor="right")
txt(776, 767, "695 nm", LS, xanchor="right")

fig.update_layout(width=W, height=H, margin=dict(l=0, r=0, t=0, b=0),
                  paper_bgcolor="white", plot_bgcolor="rgba(0,0,0,0)",
                  showlegend=False, annotations=ann, font=dict(family=FONT, color="black"))

fig.write_html("out.html", config={"displayModeBar": False},
               post_script="document.body.style.margin='0';document.body.style.overflow='hidden';")
